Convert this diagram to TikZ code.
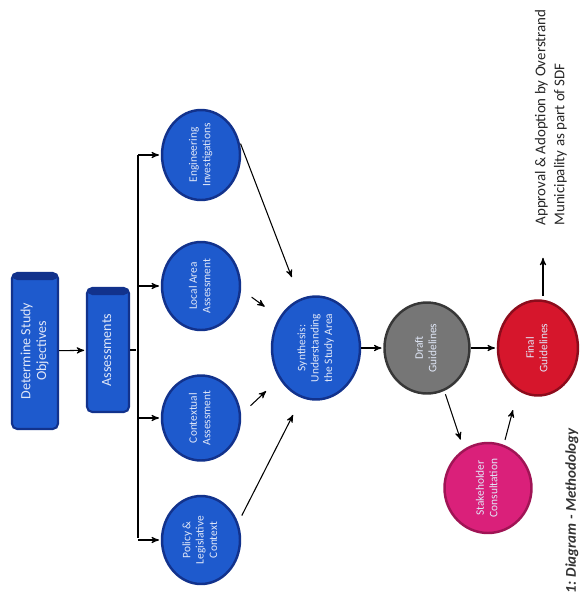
\documentclass[tikz,border=0pt]{standalone}
\usepackage{fontspec}
\setmainfont{Carlito}
\usepackage{tikz}
\usetikzlibrary{arrows,shapes.geometric}

\definecolor{stepblue}{RGB}{30,90,205}
\definecolor{stepedge}{RGB}{18,50,140}
\definecolor{draftgrey}{RGB}{118,118,118}
\definecolor{draftedge}{RGB}{55,55,55}
\definecolor{finalred}{RGB}{214,22,44}
\definecolor{finaledge}{RGB}{140,12,28}
\definecolor{consultpink}{RGB}{218,32,122}
\definecolor{consultedge}{RGB}{160,20,85}
\definecolor{paletext}{RGB}{225,232,248}

\newcommand{\vlabel}[1]{\rotatebox{90}{\begin{tabular}{@{}c@{}}#1\end{tabular}}}

\begin{document}
\begin{tikzpicture}[->,>=stealth',shorten >=1pt,x=0.02cm,y=-0.02cm,
                    node distance=2.22cm,semithick]
  \tikzstyle{every node}=[inner sep=0pt]
  \tikzstyle{task}=[rectangle,rounded corners=3pt,fill=stepblue,draw=stepedge,
    line width=1.2pt,text=paletext,font=\fontsize{8}{9}\selectfont,
    path picture={\fill[stepedge] (path picture bounding box.north west)
      rectangle ([yshift=-0.14cm]path picture bounding box.north east);}]
  \tikzstyle{study}=[ellipse,fill=stepblue,draw=stepedge,line width=1.4pt,
    text=paletext,font=\fontsize{6.5}{7.6}\selectfont,minimum width=1.56cm]

  \useasboundingbox[fill=white] (0,0) rectangle (582,596);

  \node[task,minimum width=0.92cm,minimum height=3.12cm] (objectives) at (35,351) {\vlabel{Determine Study\\Objectives}};
  \node[task,minimum width=0.84cm,minimum height=2.48cm] (assess) at (108,350) {\vlabel{Assessments}};

  \node[study,minimum height=1.8cm]  (eng)     at (201,155) {\vlabel{Engineering\\Investigations}};
  \node[study,minimum height=1.76cm] (local)   at (201,286) {\vlabel{Local Area\\Assessment}};
  \node[study,minimum height=1.7cm]  (context) at (201,418) {\vlabel{Contextual\\Assessment}};
  \node[study,minimum height=1.76cm] (policy)  at (201,540) {\vlabel{Policy \&\\Legislative\\Context}};

  \node[study,minimum width=1.76cm,minimum height=2.06cm] (synth) at (316,348) {\vlabel{Synthesis:\\Understanding\\the Study Area}};
  \node[study,fill=draftgrey,draw=draftedge,minimum width=1.7cm,minimum height=1.82cm] (draft) [right of=synth] {\vlabel{Draft\\Guidelines}};
  \node[study,fill=finalred,draw=finaledge,minimum width=1.6cm,minimum height=1.9cm] (final) [right of=draft] {\vlabel{Final\\Guidelines}};
  \node[study,fill=consultpink,draw=consultedge,minimum width=1.74cm,minimum height=1.8cm] (consult) at (488,488) {\vlabel{Stakeholder\\Consultation}};

  \node[rotate=90,anchor=west,align=left,text=black!85,font=\fontsize{8.5}{10.8}\selectfont] (approval) at (551,226) {Approval \& Adoption by Overstrand\\Municipality as part of SDF};
  \node[rotate=90,anchor=west,text=black!80,font=\bfseries\itshape\fontsize{8.5}{9}\selectfont] (caption) at (572,594) {1: Diagram - Methodology};

  % assessments tree
  \coordinate (split) at (138,350);
  \draw[-] (assess) -- (split);
  \draw[-] (split |- eng) -- (split |- policy);
  \foreach \s in {eng,local,context,policy}
    \draw (split |- \s) -- (\s);

  \draw (objectives) -- (assess);
  \draw[shorten <=0.2cm,shorten >=0.46cm] (eng.30) -- (synth.108);
  \draw[shorten <=0.26cm,shorten >=0.36cm] (local.-5) -- (synth.140);
  \draw[shorten <=0.26cm,shorten >=0.36cm] (context.5) -- (synth.-140);
  \draw[shorten <=0.16cm,shorten >=0.38cm] (policy.25) -- (synth.-106);
  \draw (synth) -- (draft);
  \draw (draft) -- (final);
  \draw[shorten <=2pt,shorten >=0.2cm] (draft.-68) -- (consult.122);
  \draw[shorten <=0.1cm,shorten >=0.4cm] (consult.70) -- (final.-115);
  \coordinate (goal) at (543,256);
  \draw[shorten <=2pt] (final.north -| goal) -- (goal);
\end{tikzpicture}
\end{document}
